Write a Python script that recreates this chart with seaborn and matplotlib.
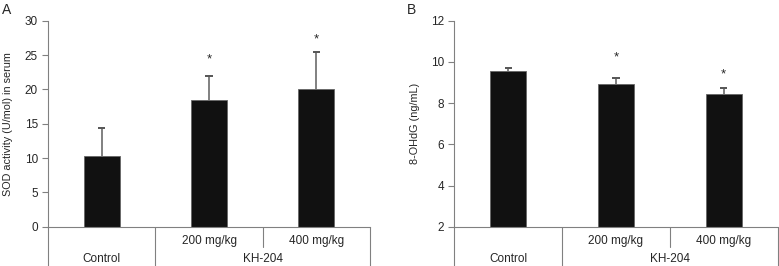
import pandas as pd
import matplotlib
matplotlib.use("Agg")
import matplotlib.pyplot as plt
import seaborn as sns

# values
groups = ["Control", "200 mg/kg", "400 mg/kg"]
sod_mean = [10.3, 18.5, 20.0]
sod_err = [4.1, 3.5, 5.5]
sod_star = [None, 24.3, 27.3]
ohdg_mean = [9.55, 8.92, 8.45]
ohdg_err = [0.13, 0.28, 0.30]
ohdg_star = [None, 10.2, 9.4]

sns.set_style("ticks")
plt.rcParams['font.family'] = ['Liberation Sans', 'DejaVu Sans']
plt.rcParams['font.size'] = 8.5

line_col = '#808080'
fig = plt.figure(figsize=(7.79, 2.66), dpi=100)
axA = fig.add_axes([0.0616, 0.1477, 0.4134, 0.7745])
axB = fig.add_axes([0.5832, 0.1477, 0.4151, 0.7745])


def draw_panel(ax, mean, err, stars, ylim, yticks, ylabel, letter, letter_x):
    df = pd.DataFrame({'group': groups, 'value': mean})
    sns.barplot(data=df, x='group', y='value', color='#111111', width=0.335,
                edgecolor='#666666', linewidth=0.6, saturation=1, errorbar=None, ax=ax)
    x = range(len(groups))
    ax.errorbar(x, mean, yerr=[[0] * len(err), err], fmt='none', ecolor=line_col,
                elinewidth=1.4, capsize=0, zorder=3)
    ax.errorbar(x, [m + e for m, e in zip(mean, err)], xerr=0.034, fmt='none',
                ecolor='#555555', elinewidth=1.4, zorder=3)
    for i, s in enumerate(stars):
        if s is not None:
            ax.text(i, s, '*', ha='center', va='center', fontsize=9.5)
    ax.set_xlim(-0.5, 2.5)
    ax.set_ylim(*ylim)
    ax.set_yticks(yticks)
    ax.set_xlabel('')
    ax.set_xticks([])
    ax.set_ylabel(ylabel, labelpad=8, fontsize=7.8)
    ax.tick_params(axis='y', length=4.3, width=0.8, color=line_col, pad=3, labelsize=8.5)
    sns.despine(ax=ax, top=True, right=True)
    for sp in ['left', 'bottom']:
        ax.spines[sp].set_color(line_col)
        ax.spines[sp].set_linewidth(0.8)
    # category table under the axis
    tr = ax.get_xaxis_transform()
    for xv, y0 in [(-0.5, -0.2), (0.5, -0.2), (1.5, -0.1), (2.5, -0.2)]:
        ax.plot([xv, xv], [0, y0], transform=tr, color=line_col, lw=0.8, clip_on=False)
    ax.text(1, -0.07, groups[1], transform=tr, ha='center', va='center')
    ax.text(2, -0.07, groups[2], transform=tr, ha='center', va='center')
    ax.text(0, -0.158, groups[0], transform=tr, ha='center', va='center')
    ax.text(1.5, -0.158, 'KH-204', transform=tr, ha='center', va='center')
    fig.text(letter_x, 0.99, letter, ha='left', va='top', fontsize=10)


draw_panel(axA, sod_mean, sod_err, sod_star, (0, 30), range(0, 31, 5),
           'SOD activity (U/mol) in serum', 'A', 0.003)
draw_panel(axB, ohdg_mean, ohdg_err, ohdg_star, (2, 12), range(2, 13, 2),
           '8-OHdG (ng/mL)', 'B', 0.522)

fig.savefig('out.png', dpi=100)
